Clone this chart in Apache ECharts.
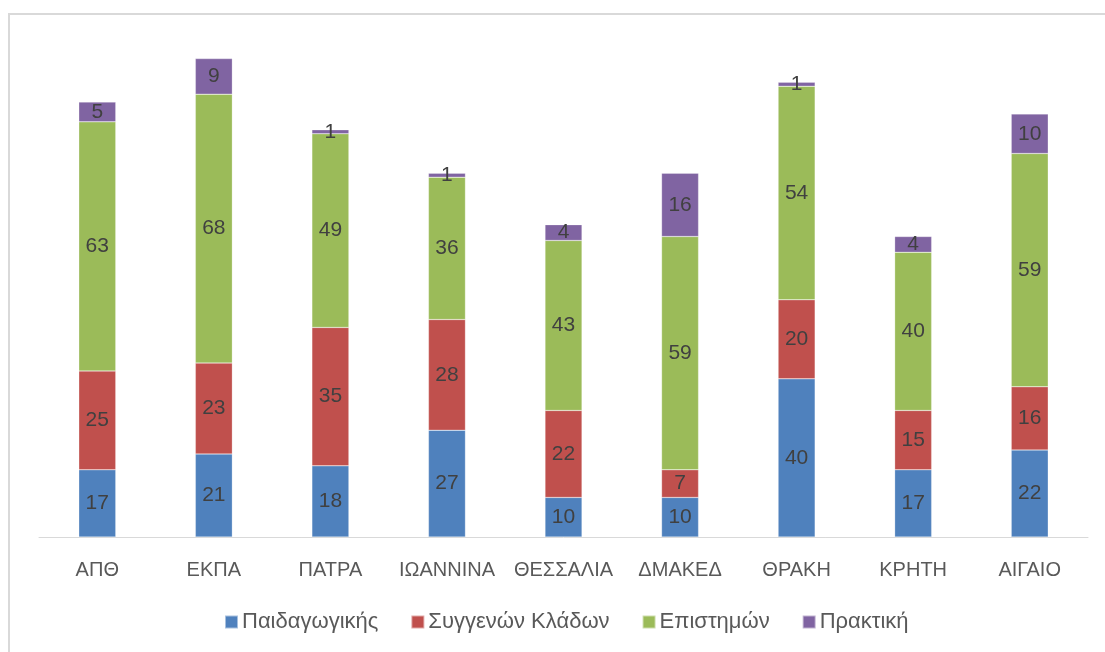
<!DOCTYPE html>
<html>
<head>
<meta charset="utf-8">
<script src="https://cdn.jsdelivr.net/npm/echarts@6/dist/echarts.min.js"></script>
<style>html,body{margin:0;padding:0;background:#fff;}#c{width:1105px;height:652px;}</style>
</head>
<body>
<div id="c"></div>
<script>
const categories = ['ΑΠΘ','ΕΚΠΑ','ΠΑΤΡΑ','ΙΩΑΝΝΙΝΑ','ΘΕΣΣΑΛΙΑ','ΔΜΑΚΕΔ','ΘΡΑΚΗ','ΚΡΗΤΗ','ΑΙΓΑΙΟ'];
const seriesNames = ['Παιδαγωγικής','Συγγενών Κλάδων','Επιστημών','Πρακτική'];
const paidagogikis = [17,21,18,27,10,10,40,17,22];
const syggenon = [25,23,35,28,22,7,20,15,16];
const epistimon = [63,68,49,36,43,59,54,40,59];
const praktiki = [5,9,1,1,4,16,1,4,10];
const colors = ['#4f81bd','#c0504d','#9bbb59','#8064a2'];
const values = [paidagogikis, syggenon, epistimon, praktiki];
const FONT = 'Liberation Sans';

const chart = echarts.init(document.getElementById('c'));
chart.setOption({
  animation: false,
  backgroundColor: '#fff',
  textStyle: {fontFamily: FONT},
  graphic: [{
    type: 'rect', shape: {x: 9, y: 14, width: 1200, height: 700},
    style: {fill: 'none', stroke: '#d9d9d9', lineWidth: 2}, silent: true, z: -1
  }],
  grid: {left: 39, right: 17, top: 23, bottom: 115, containLabel: false},
  legend: {
    data: seriesNames, top: 611, left: 224, itemWidth: 13, itemHeight: 13, itemGap: 32,
    icon: 'rect', padding: 0,
    textStyle: {fontSize: 22, color: '#595959', fontFamily: FONT, padding: [0,0,0,-1]}
  },
  xAxis: {
    type: 'category', data: categories,
    axisLine: {lineStyle: {color: '#d9d9d9', width: 1}},
    axisTick: {show: false},
    axisLabel: {fontSize: 20, color: '#595959', margin: 23, fontFamily: FONT, interval: 0}
  },
  yAxis: {
    type: 'value', min: 0, max: 130, show: false, splitLine: {show: false}
  },
  series: values.map((v, i) => ({
    name: seriesNames[i], type: 'bar', stack: 'total', data: v, barWidth: 37,
    itemStyle: {color: colors[i], borderColor: 'rgba(255,255,255,0.5)', borderWidth: 0.5},
    label: {show: true, position: 'inside', fontSize: 21, color: '#404040', fontFamily: FONT}
  }))
});
</script>
</body>
</html>
